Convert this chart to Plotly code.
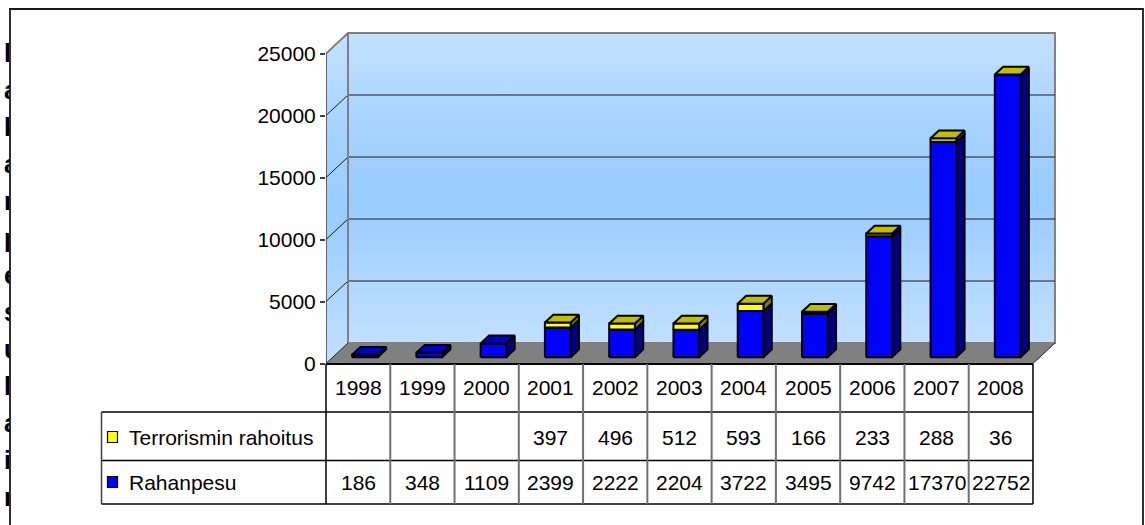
import plotly.graph_objects as go

# ---------------- data ----------------
years = ["1998", "1999", "2000", "2001", "2002", "2003", "2004", "2005", "2006", "2007", "2008"]
terrorismin_rahoitus = [None, None, None, 397, 496, 512, 593, 166, 233, 288, 36]
rahanpesu = [186, 348, 1109, 2399, 2222, 2204, 3722, 3495, 9742, 17370, 22752]
series_names = ["Terrorismin rahoitus", "Rahanpesu"]
y_tick_values = [0, 5000, 10000, 15000, 20000, 25000]
edge_letters = ["l", "a", "k", "a", "r", "p", "e", "s", "u", "l", "a", "i", "r"]

# ---------------- geometry (pixels) ----------------
W, H = 1145, 525
FONT = "Liberation Sans Narrow, Arial Narrow, Liberation Sans, Arial, sans-serif"
FS = 21
AX_PX = 326.0          # front vertical axis
COL_W = 64.27          # width of one category column
Y0_PX = 363.5          # pixel of value 0 on the front plane
K = 0.0124             # pixels per value unit
DEPTH_X_PX, DEPTH_Y_PX = 22.0, 20.5

n = len(years)
xc0 = AX_PX + COL_W / 2
x_range = [-0.5, (W - xc0) / COL_W]
y_range = [(Y0_PX - H) / K, Y0_PX / K]
DX = DEPTH_X_PX / COL_W
DY = DEPTH_Y_PX / K
XL, XR = -0.5, n - 0.5
YMAX = y_tick_values[-1]

F1, F2 = 0.31, 0.69     # bar depth (front / back) as fraction of floor depth
HW = 0.2                # half bar width in category units


def px_x(px):
    return px / W


def px_y(py):
    return 1 - py / H


def polys(list_of_polys):
    xs, ys = [], []
    for p in list_of_polys:
        for (a, b) in p:
            xs.append(a)
            ys.append(b)
        xs.append(p[0][0])
        ys.append(p[0][1])
        xs.append(None)
        ys.append(None)
    return xs, ys


fig = go.Figure()

wall_grad = dict(type="vertical",
                 colorscale=[[0, "#C2E0FF"], [0.45, "#99CCFF"], [0.7, "#A6D2FF"], [1, "#C4E2FF"]])

# back wall
bx, by = polys([[(XL + DX, DY), (XR + DX, DY), (XR + DX, YMAX + DY), (XL + DX, YMAX + DY)]])
fig.add_trace(go.Scatter(x=bx, y=by, fill="toself", fillgradient=wall_grad,
                         mode="lines", line=dict(color="#808080", width=2), hoverinfo="skip"))
# left wall
lx, ly = polys([[(XL, 0), (XL, YMAX), (XL + DX, YMAX + DY), (XL + DX, DY)]])
fig.add_trace(go.Scatter(x=lx, y=ly, fill="toself", fillgradient=wall_grad,
                         mode="lines", line=dict(color="rgba(0,0,0,0)", width=0), hoverinfo="skip"))
# floor
fx, fy = polys([[(XL, 0), (XR, 0), (XR + DX, DY), (XL + DX, DY)]])
fig.add_trace(go.Scatter(x=fx, y=fy, fill="toself", fillcolor="#808080",
                         mode="lines", line=dict(color="rgba(0,0,0,0)", width=0), hoverinfo="skip"))
# gridlines
gx, gy = [], []
for v in y_tick_values[1:-1]:
    gx += [XL, XL + DX, XR + DX, None]
    gy += [v, v + DY, v + DY, None]
fig.add_trace(go.Scatter(x=gx, y=gy, mode="lines", line=dict(color="#1a1a1a", width=1), hoverinfo="skip"))
# wall top edge and back edges
fig.add_trace(go.Scatter(x=[XL, XL + DX, XL + DX], y=[YMAX, YMAX + DY, DY], mode="lines",
                         line=dict(color="#808080", width=2), hoverinfo="skip"))
# floor side edges
fig.add_trace(go.Scatter(x=[XL, XL + DX, None, XR, XR + DX], y=[0, DY, None, 0, DY], mode="lines",
                         line=dict(color="#202020", width=1), hoverinfo="skip"))
# front axis line
fig.add_trace(go.Scatter(x=[XL, XL], y=[0, YMAX], mode="lines",
                         line=dict(color="#404040", width=1.5), hoverinfo="skip"))

# ---------------- 3D stacked bars ----------------
blue_front, blue_side, yel_front, yel_side, yel_top, blue_top = [], [], [], [], [], []
for i in range(n):
    b = rahanpesu[i]
    t = terrorismin_rahoitus[i] or 0
    segs = [(0, b, blue_front, blue_side)]
    if t:
        segs.append((b, b + t, yel_front, yel_side))
    for lo, hi, front, side in segs:
        x1 = i - HW + F1 * DX
        x2 = i + HW + F1 * DX
        front.append([(x1, lo + F1 * DY), (x2, lo + F1 * DY), (x2, hi + F1 * DY), (x1, hi + F1 * DY)])
        x3 = i + HW + F2 * DX
        side.append([(x2, lo + F1 * DY), (x3, lo + F2 * DY), (x3, hi + F2 * DY), (x2, hi + F1 * DY)])
    top = b + t
    tp = [(i - HW + F1 * DX, top + F1 * DY), (i + HW + F1 * DX, top + F1 * DY),
          (i + HW + F2 * DX, top + F2 * DY), (i - HW + F2 * DX, top + F2 * DY)]
    (yel_top if t else blue_top).append(tp)

for faces, color in [(blue_side, "#000080"), (blue_front, "#0000FF"), (yel_side, "#808000"),
                     (yel_front, "#FFFF00"), (yel_top, "#BFBF00"), (blue_top, "#0000C0")]:
    if not faces:
        continue
    xs, ys = polys(faces)
    fig.add_trace(go.Scatter(x=xs, y=ys, fill="toself", fillcolor=color, mode="lines",
                             line=dict(color="black", width=2), hoverinfo="skip"))

# ---------------- clipped letter fragments at left edge ----------------
fig.add_trace(go.Scatter(x=[4] * len(edge_letters), y=[56 + 37 * k for k in range(len(edge_letters))],
                         mode="text", text=edge_letters, textposition="middle right",
                         textfont=dict(family="Liberation Sans, Arial, sans-serif", size=25, color="black", weight=700),
                         xaxis="x2", yaxis="y2", cliponaxis=True, hoverinfo="skip"))

# ---------------- table ----------------
shapes = []
ROW_TOP, ROW1, ROW2, ROW_BOT = 364, 412, 460.5, 504
LAB_L = 101.5
line_black = dict(color="black", width=1.5)
shapes.append(dict(type="line", xref="x", yref="paper", x0=XL, x1=XR, y0=px_y(ROW_TOP), y1=px_y(ROW_TOP),
                   line=dict(color="black", width=2)))
for r in (ROW1, ROW2, ROW_BOT):
    shapes.append(dict(type="line", xref="paper", yref="paper", x0=px_x(LAB_L), x1=px_x(AX_PX + n * COL_W),
                       y0=px_y(r), y1=px_y(r), line=line_black))
shapes.append(dict(type="line", xref="paper", yref="paper", x0=px_x(LAB_L), x1=px_x(LAB_L),
                   y0=px_y(ROW1), y1=px_y(ROW_BOT), line=dict(color="#404040", width=1.5)))
shapes.append(dict(type="line", xref="paper", yref="paper", x0=px_x(AX_PX), x1=px_x(AX_PX),
                   y0=px_y(ROW_TOP), y1=px_y(ROW_BOT), line=line_black))
for k in range(1, n):
    shapes.append(dict(type="line", xref="x", yref="paper", x0=k - 0.5, x1=k - 0.5,
                       y0=px_y(ROW_TOP), y1=px_y(ROW_BOT), line=dict(color="#707070", width=2)))
shapes.append(dict(type="line", xref="x", yref="paper", x0=XR, x1=XR,
                   y0=px_y(ROW_TOP), y1=px_y(ROW_BOT), line=line_black))
for (y0, y1), col in [((431.5, 442.5), "#FFFF00"), ((476.5, 487.5), "#0000FF")]:
    shapes.append(dict(type="rect", xref="paper", yref="paper", x0=px_x(107.5), x1=px_x(117.5),
                       y0=px_y(y1), y1=px_y(y0), fillcolor=col, line=dict(color="black", width=1.2)))
shapes.append(dict(type="path", xref="paper", yref="paper",
                   path=f"M {px_x(10)},0 L {px_x(10)},{px_y(9)} L {px_x(1143)},{px_y(9)} L {px_x(1143)},0",
                   line=dict(color="#1a1a1a", width=1.8)))

annotations = []
row_y = {"years": 387, series_names[0]: 437, series_names[1]: 482}
for i, yr in enumerate(years):
    annotations.append(dict(x=i, y=px_y(row_y["years"]), xref="x", yref="paper", text=yr, showarrow=False,
                            xanchor="center", yanchor="middle", font=dict(family=FONT, size=FS, color="black")))
for name, vals in [(series_names[0], terrorismin_rahoitus), (series_names[1], rahanpesu)]:
    for i, v in enumerate(vals):
        if v is None:
            continue
        annotations.append(dict(x=i, y=px_y(row_y[name]), xref="x", yref="paper", text=str(v), showarrow=False,
                                xanchor="center", yanchor="middle", font=dict(family=FONT, size=FS, color="black")))
    annotations.append(dict(x=px_x(127), y=px_y(row_y[name]), xref="paper", yref="paper", text=name,
                            showarrow=False, xanchor="left", yanchor="middle",
                            font=dict(family=FONT, size=FS, color="black")))

fig.update_layout(
    width=W, height=H,
    margin=dict(l=0, r=0, t=0, b=0),
    paper_bgcolor="white", plot_bgcolor="rgba(0,0,0,0)",
    showlegend=False, hovermode=False,
    xaxis=dict(domain=[AX_PX / W, 1], range=x_range, visible=False, fixedrange=True),
    yaxis=dict(domain=[0, 1], range=y_range, showgrid=False, zeroline=False, showline=False,
               tickmode="array", tickvals=y_tick_values, ticktext=[str(v) for v in y_tick_values],
               ticks="outside", ticklen=5, tickwidth=1.5, tickcolor="#404040",
               tickfont=dict(family=FONT, size=FS, color="black"), fixedrange=True),
    xaxis2=dict(domain=[0, 10 / W], range=[0, 10], visible=False, anchor="y2", fixedrange=True),
    yaxis2=dict(domain=[0, 1], range=[H, 0], visible=False, anchor="x2", fixedrange=True),
    shapes=shapes,
    annotations=annotations,
    font=dict(family=FONT),
)

fig.write_html("out.html", config={"displayModeBar": False},
               post_script="document.body.style.margin='0';document.body.style.overflow='hidden';")
